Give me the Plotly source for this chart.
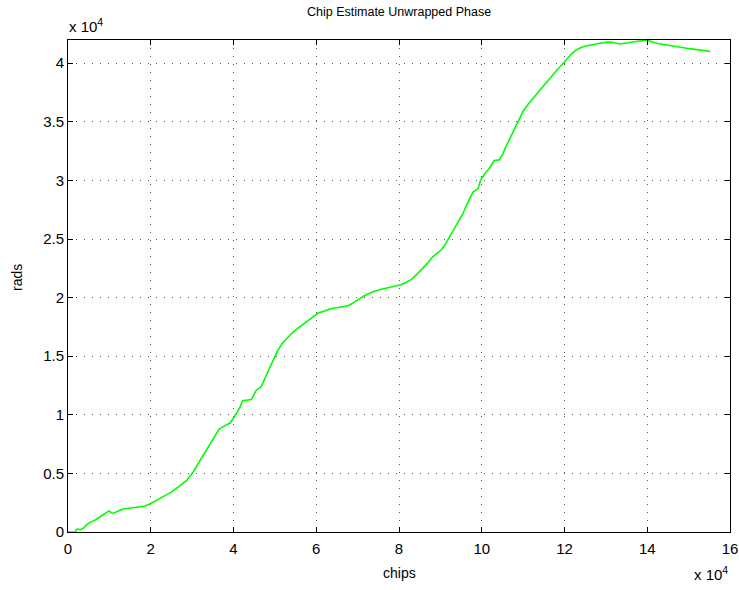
import plotly.graph_objects as go

# chips (x) and rads (y) (in units of 1e4)
chips_e4 = [0.0, 0.18, 0.2, 0.22, 0.30, 0.36, 0.45, 0.52, 0.65, 0.76, 0.90, 0.99, 1.05, 1.11, 1.22, 1.33,
            1.50, 1.65, 1.85, 2.01, 2.15, 2.29, 2.50, 2.70, 2.87, 3.02, 3.18, 3.34, 3.50, 3.65, 3.80,
            3.92, 4.05, 4.15, 4.22, 4.35, 4.43, 4.55, 4.67, 4.77, 4.87, 4.97, 5.07, 5.18, 5.28, 5.42,
            5.56, 5.70, 5.84, 5.95, 6.04, 6.14, 6.24, 6.35, 6.49, 6.63, 6.77, 6.85, 6.93, 7.03, 7.13,
            7.25, 7.37, 7.55, 7.70, 7.85, 8.02, 8.15, 8.30, 8.44, 8.58, 8.70, 8.82, 9.03, 9.13, 9.23,
            9.35, 9.47, 9.55, 9.63, 9.71, 9.79, 9.85, 9.91, 9.97, 10.02, 10.10, 10.18, 10.24, 10.30,
            10.42, 10.50, 10.60, 10.70, 10.80, 10.90, 11.0, 11.12, 11.24, 11.36, 11.48, 11.60, 11.72,
            11.85, 11.97, 12.07, 12.17, 12.27, 12.37, 12.49, 12.61, 12.73, 12.85, 12.95, 13.05, 13.15,
            13.26, 13.34, 13.45, 13.58, 13.70, 13.82, 13.98, 14.06, 14.14, 14.26, 14.38, 14.50, 14.63,
            14.75, 14.87, 14.99, 15.11, 15.23, 15.35, 15.45, 15.53]
rads_e4 = [0.0, 0.0, 0.02, 0.025, 0.02, 0.03, 0.06, 0.08, 0.10, 0.125, 0.155, 0.18, 0.165, 0.16, 0.18,
           0.196, 0.205, 0.21, 0.22, 0.245, 0.27, 0.30, 0.34, 0.39, 0.44, 0.51, 0.60, 0.70, 0.79,
           0.876, 0.91, 0.93, 1.00, 1.06, 1.12, 1.125, 1.13, 1.21, 1.24, 1.32, 1.40, 1.48, 1.55, 1.61,
           1.65, 1.70, 1.74, 1.775, 1.81, 1.84, 1.866, 1.88, 1.894, 1.905, 1.914, 1.922, 1.93, 1.945,
           1.965, 1.99, 2.01, 2.03, 2.05, 2.07, 2.08, 2.095, 2.107, 2.125, 2.155, 2.20, 2.25, 2.30,
           2.35, 2.41, 2.46, 2.52, 2.59, 2.66, 2.72, 2.79, 2.85, 2.90, 2.915, 2.93, 3.0, 3.03, 3.07,
           3.10, 3.14, 3.17, 3.175, 3.22, 3.30, 3.37, 3.45, 3.52, 3.59, 3.65, 3.70, 3.755, 3.81, 3.86,
           3.91, 3.955, 4.0, 4.045, 4.08, 4.11, 4.13, 4.145, 4.155, 4.163, 4.17, 4.175, 4.18, 4.178,
           4.168, 4.164, 4.17, 4.178, 4.183, 4.19, 4.198, 4.19, 4.178, 4.168, 4.16, 4.155, 4.15, 4.14,
           4.13, 4.125, 4.12, 4.115, 4.11, 4.105, 4.10]

chips = [v * 1e4 for v in chips_e4]
rads = [v * 1e4 for v in rads_e4]

x_tick_vals = [0, 2e4, 4e4, 6e4, 8e4, 10e4, 12e4, 14e4, 16e4]
x_tick_text = ["0", "2", "4", "6", "8", "10", "12", "14", "16"]
y_tick_vals = [0, 0.5e4, 1e4, 1.5e4, 2e4, 2.5e4, 3e4, 3.5e4, 4e4]
y_tick_text = ["0", "0.5", "1", "1.5", "2", "2.5", "3", "3.5", "4"]

FONT = "Liberation Sans, Arial, sans-serif"

fig = go.Figure()
fig.add_trace(go.Scatter(x=chips, y=rads, mode="lines",
                         line=dict(color="#00ff00", width=1.6), showlegend=False))

axis_common = dict(
    showline=True, linecolor="black", linewidth=1, mirror="ticks",
    ticks="inside", ticklen=5, tickcolor="black", tickwidth=1,
    showgrid=True, gridcolor="#555555", gridwidth=1, griddash="1px,7px",
    zeroline=False, automargin=False,
    tickfont=dict(family=FONT, size=15, color="black"),
)

fig.update_xaxes(range=[0, 16e4], tickmode="array", tickvals=x_tick_vals,
                 ticktext=x_tick_text, ticklabelstandoff=3, **axis_common)
fig.update_yaxes(range=[0, max(rads)], tickmode="array", tickvals=y_tick_vals,
                 ticktext=y_tick_text, **axis_common)

H = 492.0
W = 662.0
fig.update_layout(
    width=739, height=590,
    margin=dict(l=68, r=9, t=40, b=58, pad=0),
    plot_bgcolor="white", paper_bgcolor="white",
    font=dict(family=FONT, size=14, color="black"),
    annotations=[
        dict(text="Chip Estimate Unwrapped Phase", xref="paper", yref="paper",
             x=0.5, y=1 + 28 / H, xanchor="center", yanchor="middle",
             showarrow=False, font=dict(size=12.5)),
        dict(text="x 10<sup>4</sup>", xref="paper", yref="paper",
             x=-0.002, y=1 + 3 / H, xanchor="left", yanchor="bottom",
             showarrow=False, font=dict(size=15)),
        dict(text="x 10<sup>4</sup>", xref="paper", yref="paper",
             x=1.0, y=-(41 / H), xanchor="right", yanchor="middle",
             showarrow=False, font=dict(size=15)),
        dict(text="chips", xref="paper", yref="paper",
             x=0.5, y=-(41 / H), xanchor="center", yanchor="middle",
             showarrow=False, font=dict(size=14)),
        dict(text="rads", xref="paper", yref="paper",
             x=-(51 / W), y=1 - (238 / H), xanchor="center", yanchor="middle",
             textangle=-90, showarrow=False, font=dict(size=14)),
    ],
)

fig.write_html("out.html", config={"displayModeBar": False})

# remove the default 8px page margin so the figure sits at the window's corner
with open("out.html", "r", encoding="utf-8") as f:
    html = f.read()
html = html.replace("<body>", '<body style="margin:0;padding:0;">', 1)
with open("out.html", "w", encoding="utf-8") as f:
    f.write(html)
